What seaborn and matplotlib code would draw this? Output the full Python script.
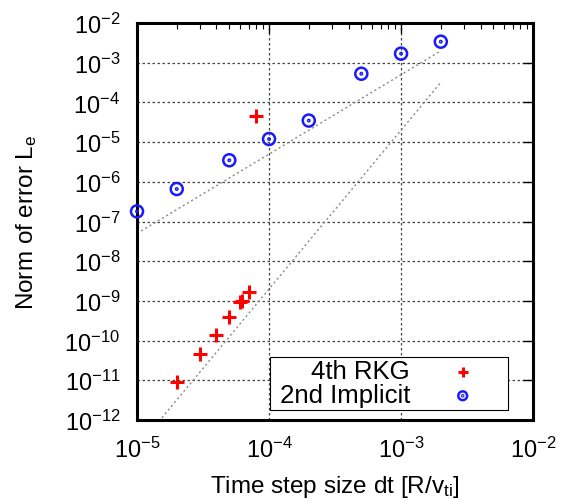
"""Convergence of time integration error vs step size (log-log)."""

import matplotlib
matplotlib.use("Agg")
import matplotlib.pyplot as plt
import pandas as pd
import seaborn as sns
from matplotlib.path import Path
from matplotlib.ticker import LogLocator, NullLocator

# 4th order Runge-Kutta-Gill
rkg_dt = [2e-5, 3e-5, 4e-5, 5e-5, 6e-5, 6.2e-5, 7e-5, 8e-5]
rkg_err = [9e-12, 4.7e-11, 1.4e-10, 4e-10, 9.5e-10, 1.0e-9, 1.7e-9, 4.5e-5]

# 2nd order implicit
imp_dt = [1e-5, 2e-5, 5e-5, 1e-4, 2e-4, 5e-4, 1e-3, 2e-3]
imp_err = [1.8e-7, 6.6e-7, 3.5e-6, 1.2e-5, 3.5e-5, 5.3e-4, 1.7e-3, 3.4e-3]

# reference slopes (end points of the dotted guide lines)
guide_dt = [1e-5, 2e-3]
guide2_err = [5e-8, 2e-3]
guide4_err = [2e-13, 3.2e-4]

sns.set_style("white", {"text.color": "black", "axes.labelcolor": "black",
                        "xtick.color": "black", "ytick.color": "black"})
plt.rcParams["font.family"] = ["Liberation Sans", "DejaVu Sans"]
plt.rcParams["mathtext.fontset"] = "custom"
plt.rcParams["mathtext.rm"] = "Liberation Sans"
plt.rcParams["mathtext.it"] = "Liberation Sans:italic"

rkg = pd.DataFrame({"dt": rkg_dt, "err": rkg_err})
imp = pd.DataFrame({"dt": imp_dt, "err": imp_err})
guides = pd.DataFrame({
    "dt": guide_dt + guide_dt,
    "err": guide2_err + guide4_err,
    "order": ["2"] * 2 + ["4"] * 2,
})

# circle with a dot in the middle
dot_circle = Path.make_compound_path(Path.unit_circle(), Path.circle((0, 0), 0.12))

fig = plt.figure(figsize=(5.65, 5.02), dpi=100)
ax = fig.add_axes([0.2425, 0.1614, 0.701, 0.7906])
ax.set_xscale("log")
ax.set_yscale("log")

sns.lineplot(guides, x="dt", y="err", units="order", estimator=None, ax=ax,
             color="#8a8a8a", linestyle=(0, (1.5, 2)), linewidth=1.0, legend=False)
sns.scatterplot(rkg, x="dt", y="err", ax=ax, marker="+", s=90, color="red",
                linewidth=2.2, label="4th RKG", zorder=4)
sns.scatterplot(imp, x="dt", y="err", ax=ax, marker=dot_circle, s=75,
                facecolor="none", edgecolor="#1a1aff", linewidth=1.8,
                label=" 2nd Implicit", zorder=4, clip_on=False)

ax.set_xlim(1e-5, 1e-2)
ax.set_ylim(1e-12, 1e-2)
ax.xaxis.set_major_locator(LogLocator(base=10, numticks=10))
ax.xaxis.set_minor_locator(LogLocator(base=10, subs=range(2, 10), numticks=10))
ax.yaxis.set_major_locator(LogLocator(base=10, numticks=20))
ax.yaxis.set_minor_locator(NullLocator())

ax.grid(True, which="major", color="#444444", linestyle=(0, (2, 2)), linewidth=0.9)
ax.tick_params(which="both", direction="in", top=True, right=True, labelsize=17,
               color="black", labelcolor="black")
ax.tick_params(axis="y", pad=12)
ax.tick_params(axis="x", pad=12)
ax.tick_params(which="major", length=7, width=1)
ax.tick_params(which="minor", length=4, width=0.8)
for sp in ax.spines.values():
    sp.set_linewidth(2.2)
    sp.set_color("black")

ax.set_xlabel(r"Time step size dt [R/v$_\mathdefault{ti}$]", fontsize=17.5, labelpad=8)
ax.set_ylabel(r"Norm of error L$_\mathdefault{e}$", fontsize=17.5, labelpad=18)

leg = ax.legend(loc="lower left", bbox_to_anchor=(0.336, 0.025), markerfirst=False,
                fontsize=18.5, frameon=True, fancybox=False, framealpha=1,
                edgecolor="black", borderpad=0.1, labelspacing=0.0,
                handlelength=3.3, handletextpad=0.4, borderaxespad=0)
leg.get_frame().set_linewidth(0.8)
leg.legend_handles[0].set_sizes([60])
leg.legend_handles[1].set_sizes([40])
for t in leg.get_texts():
    t.set_color("black")

fig.savefig("out.png", dpi=100)
